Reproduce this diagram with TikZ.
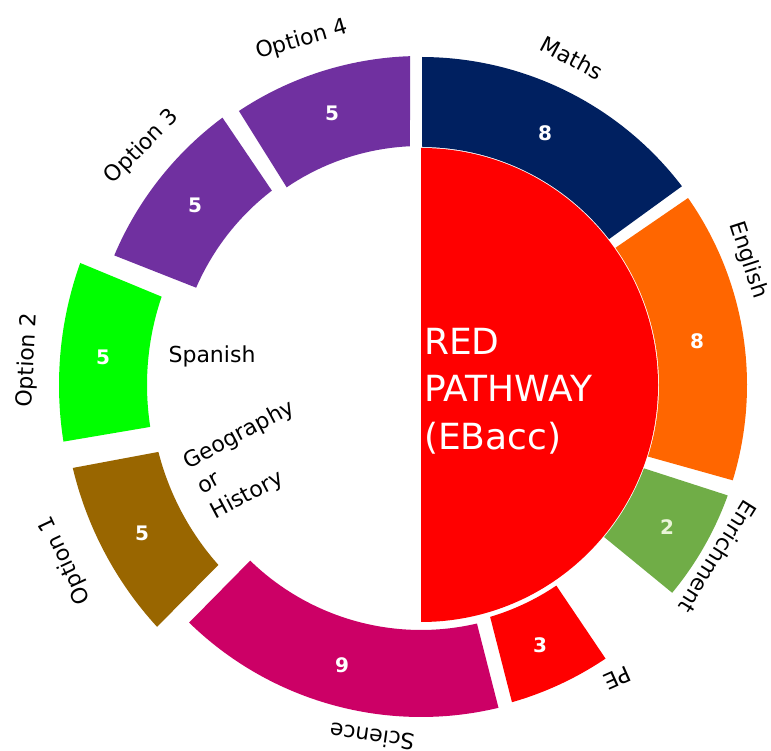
\documentclass[tikz,border=0pt]{standalone}
\usepackage{fontspec}
\setmainfont{DejaVu Sans}
\definecolor{mathsC}{HTML}{002060}
\definecolor{englishC}{HTML}{FF6600}
\definecolor{enrichC}{HTML}{70AD47}
\definecolor{peC}{HTML}{FF0000}
\definecolor{scienceC}{HTML}{CC0066}
\definecolor{optoneC}{HTML}{996600}
\definecolor{opttwoC}{HTML}{00FF00}
\definecolor{optC}{HTML}{7030A0}
\definecolor{paleC}{HTML}{EAF4D8}
\newcommand{\ringseg}[7]{\fill[#1] (#2:#4) arc[start angle=#2, end angle=#3, radius=#4] -- (#6:#7) arc[start angle=#6, end angle=#5, radius=#7] -- cycle;}
\begin{document}
\begin{tikzpicture}[x=1pt,y=1pt,
  numlbl/.style={text=white,font=\bfseries\fontsize{20}{24}\selectfont,inner sep=0pt},
  outlbl/.style={text=black,font=\fontsize{22}{28.5}\selectfont,inner sep=0pt},
  bigtxt/.style={text=white,font=\fontsize{36}{44}\selectfont,inner sep=0pt,anchor=base west}]
\useasboundingbox (0,0) rectangle (771,751);
\fill[white] (0,0) rectangle (771,751);
\coordinate (C) at (421,366);
\begin{scope}[shift={(C)}]
  % red half disc
  \fill[peC] (0,237) arc[start angle=90, end angle=-90, radius=237] -- cycle;
  % ring segments
  \ringseg{mathsC}{37.8}{89.7}{238}{37.3}{89.8}{328}
  \ringseg{englishC}{-17.5}{35.2}{238}{-17}{35}{326}
  \ringseg{enrichC}{-39.7}{-20.5}{238}{-39.6}{-19.8}{326}
  \ringseg{peC}{-73.4}{-56}{242}{-74}{-56}{330}
  \ringseg{scienceC}{-134.2}{-76.8}{245}{-134.3}{-76.5}{332}
  \ringseg{optoneC}{-165.7}{-138.4}{271}{-166.6}{-137.5}{358}
  \ringseg{opttwoC}{161.2}{188.8}{274}{160.3}{189}{362}
  \ringseg{optC}{127.5}{156.6}{245}{126.6}{157.1}{333}
  \ringseg{optC}{92.65}{124.2}{239}{91.9}{123.6}{329}
\end{scope}
% centre text
\node[bigtxt] (red1) at (424,396) {RED};
\node[bigtxt] (red2) at (424,349) {PATHWAY};
\node[bigtxt] (red3) at (424,301) {(EBacc)};
% numbers
\node[numlbl] (nmaths) at (545,618) {8};
\node[numlbl] (nenglish) at (697,410) {8};
\node[numlbl,text=paleC] (nenrich) at (667,224) {2};
\node[numlbl] (npe) at (540,106) {3};
\node[numlbl] (nscience) at (342,86) {9};
\node[numlbl] (nopt1) at (142,218) {5};
\node[numlbl] (nopt2) at (103,394) {5};
\node[numlbl] (nopt3) at (195,546) {5};
\node[numlbl] (nopt4) at (332,638) {5};
% outer labels
\node[outlbl,rotate=-28] (lmaths) at (572,693) {Maths};
\node[outlbl,rotate=-72] (lenglish) at (748,491) {English};
\node[outlbl,rotate=-122] (lenrich) at (718,194) {Enrichment};
\node[outlbl,rotate=-156] (lpe) at (617,73) {PE};
\node[outlbl,rotate=172] (lscience) at (372,14) {Science};
\node[outlbl,rotate=115] (lopt1) at (65,191) {Option 1};
\node[outlbl,rotate=87] (lopt2) at (28,391) {Option 2};
\node[outlbl,rotate=45] (lopt3) at (142,604) {Option 3};
\node[outlbl,rotate=16] (lopt4) at (302,711) {Option 4};
% inner labels
\node[outlbl] (lspanish) at (212,395) {Spanish};
\node[outlbl,rotate=28,align=left,anchor=west] (lgeo) at (199,262) {Geography\\or\\History};
\end{tikzpicture}
\end{document}
